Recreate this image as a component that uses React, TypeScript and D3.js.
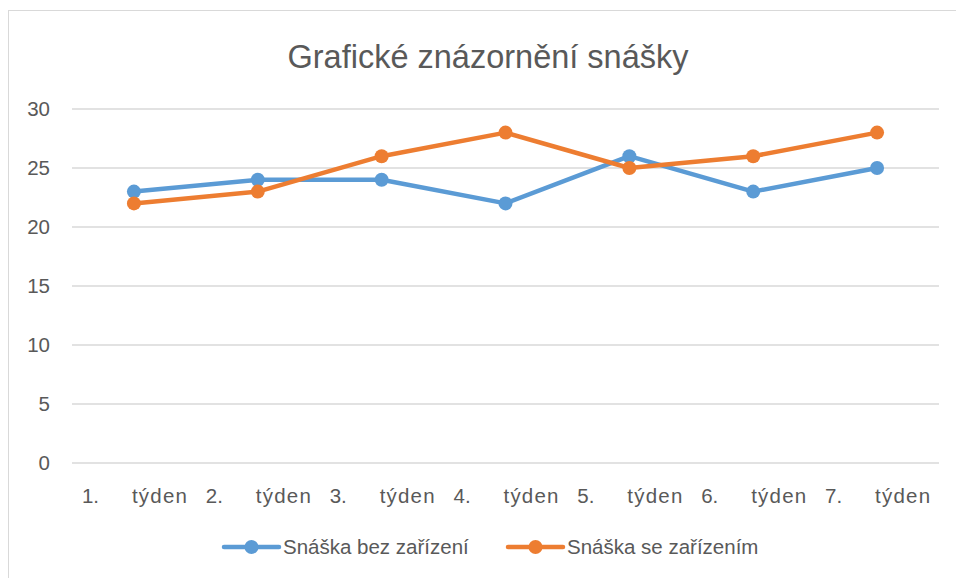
import React from "react";
import * as d3 from "d3";

const categories = ["1. týden", "2. týden", "3. týden", "4. týden", "5. týden", "6. týden", "7. týden"];
const seriesNames = ["Snáška bez zařízení", "Snáška se zařízením"];
const seriesBez = [23, 24, 24, 22, 26, 23, 25];
const seriesSe = [22, 23, 26, 28, 25, 26, 28];
const yTicks = [0, 5, 10, 15, 20, 25, 30];
const colors = ["#5B9BD5", "#ED7D31"];
const title = "Grafické znázornění snášky";

export default function App() {
  const W = 956, H = 578;
  const left = 72, right = 939, top = 109, bottom = 463;
  const x = d3.scaleBand<string>().domain(categories).range([left, right]);
  const y = d3.scaleLinear().domain([0, 30]).range([bottom, top]);
  const cx = (c: string) => (x(c) as number) + x.bandwidth() / 2;
  const line = d3.line<number>().x((_, i) => cx(categories[i])).y((d) => y(d));
  const series = [seriesBez, seriesSe];
  const font = "'Liberation Sans', Arial, sans-serif";
  const textColor = "#595959";
  const legendItems = [
    { x0: 224, tx: 283 },
    { x0: 508, tx: 567 },
  ];
  return (
    <svg width={W} height={H} style={{ position: "absolute", left: 0, top: 0, background: "#fff" }} fontFamily={font}>
      <rect x={8.5} y={10.5} width={1000} height={1000} fill="#fff" stroke="#D9D9D9" strokeWidth={1} />
      <text x={488} y={68} textAnchor="middle" fontSize={32.5} fill={textColor}>{title}</text>
      {yTicks.map((t) => (
        <g key={t}>
          <line x1={left} x2={right} y1={y(t)} y2={y(t)} stroke="#D9D9D9" strokeWidth={1.5} />
          <text x={50} y={y(t)} dy="0.36em" textAnchor="end" fontSize={20.5} fill={textColor}>{t}</text>
        </g>
      ))}
      {categories.map((c) => {
        const [num, word] = c.split(" ");
        const m = cx(c);
        return (
          <g key={c}>
            <text x={m - 52} y={503} fontSize={20.5} fill={textColor}>{num}</text>
            <text x={m - 2} y={503} textLength={55} lengthAdjust="spacing" fontSize={20.5} fill={textColor}>{word}</text>
          </g>
        );
      })}
      {series.map((s, si) => (
        <g key={si}>
          <path d={line(s) || ""} fill="none" stroke={colors[si]} strokeWidth={4.5} strokeLinejoin="round" strokeLinecap="round" />
          {s.map((v, i) => (
            <circle key={i} cx={cx(categories[i])} cy={y(v)} r={7} fill={colors[si]} />
          ))}
        </g>
      ))}
      {legendItems.map((l, i) => (
        <g key={i}>
          <line x1={l.x0} x2={l.x0 + 55} y1={547} y2={547} stroke={colors[i]} strokeWidth={4.5} strokeLinecap="round" />
          <circle cx={l.x0 + 27.5} cy={547} r={7} fill={colors[i]} />
          <text x={l.tx} y={547} dy="0.36em" fontSize={20.5} fill={textColor}>{seriesNames[i]}</text>
        </g>
      ))}
    </svg>
  );
}
